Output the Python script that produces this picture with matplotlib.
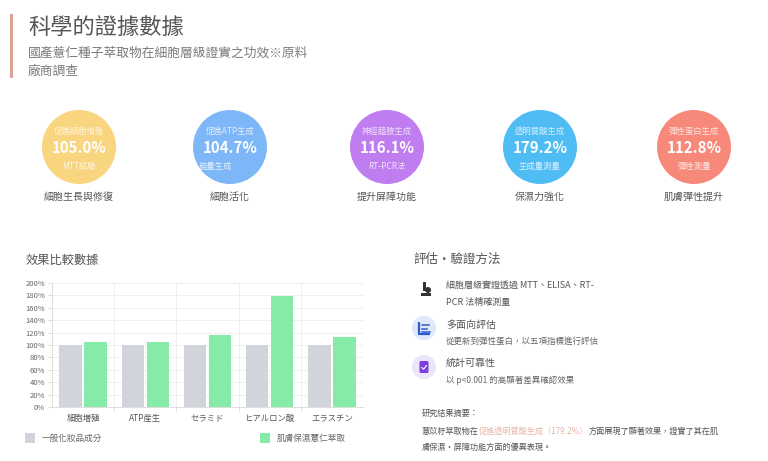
import numpy as np
import matplotlib.pyplot as plt
from matplotlib.patches import Circle, Rectangle, FancyBboxPatch

plt.rcParams['font.family'] = ['Noto Sans CJK TC', 'DejaVu Sans']

# 上段的五個指標
metric_top = ['促進細胞增殖', '促進ATP生成', '神經醯胺生成', '透明質酸生成', '彈性蛋白生成']
metric_val = [105.0, 104.7, 116.1, 179.2, 112.8]
metric_sub = ['MTT試驗', '能量生成', 'RT-PCR法', '生成量測量', '彈性測量']
metric_name = ['細胞生長與修復', '細胞活化', '提升屏障功能', '保濕力強化', '肌膚彈性提升']
metric_color = ['#f8d57e', '#7db7f7', '#bf7df0', '#4fbdf4', '#f7897b']

# 比較圖
bar_cats = ['細胞増殖', 'ATP産生', 'セラミド', 'ヒアルロン酸', 'エラスチン']
base_vals = [100, 100, 100, 100, 100]
extract_vals = [105.0, 104.7, 116.1, 179.2, 112.8]
legend_labels = ['一般化妝品成分', '肌膚保濕薏仁萃取']
bar_colors = ['#d2d4db', '#86eaa9']

W, H = 768, 461
fig = plt.figure(figsize=(W / 100, H / 100), dpi=100)
fig.patch.set_facecolor('white')

# 整張圖用像素座標的底層
bg = fig.add_axes([0, 0, 1, 1])
bg.set_xlim(0, W)
bg.set_ylim(H, 0)
bg.axis('off')

# ---- 標題 ----
bg.add_patch(Rectangle((10, 14), 3, 64, color='#dba395', lw=0))
bg.text(28, 27, '科學的證據數據', fontsize=16, color='#555555', va='center')
bg.text(28, 53, '國產薏仁種子萃取物在細胞層級證實之功效※原料', fontsize=9.2,
        color='#7a7a7a', va='center')
bg.text(28, 71, '廠商調查', fontsize=9.2, color='#7a7a7a', va='center')

# ---- 圓形指標 ----
cx = [79, 230, 387, 540, 694]
cy, r = 147, 37
for i in range(len(metric_val)):
    bg.add_patch(Circle((cx[i], cy), r, color=metric_color[i], lw=0))
    bg.text(cx[i], cy - 16, metric_top[i], fontsize=6, color='white', alpha=0.75,
            ha='center', va='center')
    bg.text(cx[i], cy + 0.5, f'{metric_val[i]:.1f}%', fontsize=10.8, color='white',
            fontweight='bold', ha='center', va='center')
    sub_x = cx[i] - 15 if i == 1 else cx[i]
    bg.text(sub_x, cy + 19, metric_sub[i], fontsize=6, color='white', alpha=0.8,
            ha='center', va='center')
    bg.text(cx[i], 197, metric_name[i], fontsize=7.2, color='#555555',
            ha='center', va='center')

# ---- 長條圖 ----
bg.text(26, 260, '效果比較數據', fontsize=8.8, color='#555555', va='center')

ax = fig.add_axes([52 / W, 1 - 407 / H, (363 - 52) / W, (407 - 283) / H])
x = np.arange(len(bar_cats))
bw = 0.36
ax.bar(x - 0.2, base_vals, bw, color=bar_colors[0], zorder=3)
ax.bar(x + 0.2, extract_vals, bw, color=bar_colors[1], zorder=3)
ax.set_xlim(-0.5, len(bar_cats) - 0.5)
ax.set_ylim(0, 200)
ax.set_yticks(np.arange(0, 201, 20))
ax.set_yticklabels([f'{v}%' for v in range(0, 201, 20)], fontsize=5.5, color='#666666')
ax.set_xticks(x)
ax.set_xticklabels(bar_cats, fontsize=6, color='#555555',
                   family=['Noto Sans CJK JP', 'DejaVu Sans'])
ax.set_xticks(np.arange(0.5, len(bar_cats) - 0.5, 1), minor=True)
ax.grid(axis='y', color='#ececec', lw=0.6, zorder=0)
ax.grid(axis='x', which='minor', color='#ececec', lw=0.6, zorder=0)
ax.tick_params(axis='x', which='major', length=0, pad=5)
ax.tick_params(axis='x', which='minor', length=3, color='#dddddd')
ax.tick_params(axis='y', length=3, color='#dddddd', pad=2)
for s in ['top', 'right']:
    ax.spines[s].set_visible(False)
for s in ['left', 'bottom']:
    ax.spines[s].set_color('#dddddd')
    ax.spines[s].set_linewidth(0.7)

# 圖例
bg.add_patch(Rectangle((25, 433), 10, 10, color=bar_colors[0], lw=0))
bg.text(42, 438, legend_labels[0], fontsize=6.2, color='#666666', va='center')
bg.add_patch(Rectangle((260, 433), 10, 10, color=bar_colors[1], lw=0))
bg.text(277, 438, legend_labels[1], fontsize=6.2, color='#666666', va='center')

# ---- 評估方法 ----
bg.text(413, 259, '評估·驗證方法', fontsize=9, color='#555555', va='center')

# 顯微鏡圖示（簡化）
bg.add_patch(Rectangle((421, 293), 10, 2.5, color='#333333', lw=0))
bg.add_patch(Rectangle((423, 282), 3, 9, color='#333333', lw=0))
bg.add_patch(Circle((428, 290), 3, color='#333333', lw=0))
bg.text(446, 285, '細胞層級實證透過 MTT、ELISA、RT-', fontsize=6.5, color='#555555', va='center')
bg.text(446, 302, 'PCR 法精確測量', fontsize=6.5, color='#555555', va='center')

# 圖表圖示
bg.add_patch(Circle((424, 328), 12, color='#dfe9fb', lw=0))
bg.plot([419, 419, 430], [322, 334, 334], color='#2f5bd3', lw=1.6, solid_capstyle='butt')
for yy, ln in [(325, 7), (328.5, 5), (332, 8)]:
    bg.plot([422, 422 + ln], [yy, yy], color='#2f5bd3', lw=1.1)
bg.text(446, 325, '多面向評估', fontsize=7.2, color='#555555', va='center')
bg.text(446, 341, '從更新到彈性蛋白，以五項指標進行評估', fontsize=6.1, color='#666666', va='center')

# 核對圖示
bg.add_patch(Circle((424, 367), 12, color='#ece4f8', lw=0))
bg.add_patch(FancyBboxPatch((419.5, 361), 9, 12, boxstyle='round,pad=0,rounding_size=1.5',
                            color='#7b3fe0', lw=0))
bg.plot([421.8, 423.6, 426.5], [367.5, 369.3, 365.5], color='white', lw=0.8)
bg.text(446, 363, '統計可靠性', fontsize=7.2, color='#555555', va='center')
bg.text(446, 380, '以 p<0.001 的高顯著差異確認效果', fontsize=6.1, color='#666666', va='center')

# ---- 研究結果摘要 ----
bg.text(422, 413, '研究結果摘要：', fontsize=5.9, color='#555555', va='center')
t1 = bg.text(422, 431, '薏苡籽萃取物在', fontsize=5.9, color='#555555', va='center')
t2 = bg.annotate('促進透明質酸生成（179.2%）', xy=(1, 0), xycoords=t1, va='bottom',
                 fontsize=5.9, color='#e9b7a6')
bg.annotate('方面展現了顯著效果，證實了其在肌', xy=(1, 0), xycoords=t2, va='bottom',
            fontsize=5.9, color='#555555')
bg.text(422, 447, '膚保濕・屏障功能方面的優異表現。', fontsize=5.9, color='#555555', va='center')

fig.savefig('out.png', dpi=100, facecolor='white')
